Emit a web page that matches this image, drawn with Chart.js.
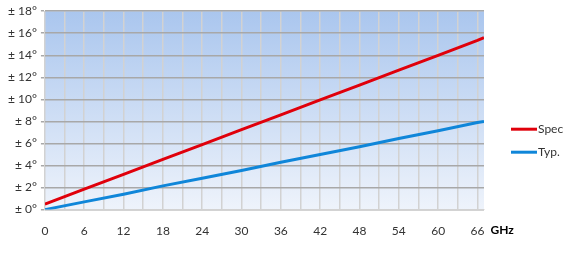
<!DOCTYPE html>
<html>
<head>
<meta charset="utf-8">
<script src="https://cdn.jsdelivr.net/npm/chart.js@4"></script>
<style>
  html, body { margin: 0; padding: 0; background: #fff; }
  #wrap { width: 567px; height: 253px; }
</style>
</head>
<body>
<div id="wrap"><canvas id="myChart"></canvas></div>
<script>
// frequency points (GHz) and the two curves
const freqs = [0, 6, 12, 18, 24, 30, 36, 42, 48, 54, 60, 66, 67];
const specValues = [0.5, 1.85, 3.2, 4.55, 5.9, 7.25, 8.6, 9.95, 11.3, 12.65, 14.0, 15.35, 15.6];
const typValues = [0, 0.7, 1.4, 2.15, 2.85, 3.55, 4.3, 5.0, 5.7, 6.45, 7.15, 7.9, 8.0];
const seriesNames = ["Spec", "Typ."];
const seriesColors = ["#e0000b", "#0f86d9"];
const xTicks = [0, 3, 6, 9, 12, 15, 18, 21, 24, 27, 30, 33, 36, 39, 42, 45, 48, 51, 54, 57, 60, 63, 66];
const xUnit = "GHz";

const fontFamily = "Lato, 'Open Sans', sans-serif";
const font = { family: fontFamily, size: 12 };

// blue gradient behind the plot area
const plotBackground = {
  id: "plotBackground",
  beforeDraw(chart) {
    const { ctx, chartArea: a } = chart;
    const g = ctx.createLinearGradient(0, a.top, 0, a.bottom);
    g.addColorStop(0, "#aac6ee");
    g.addColorStop(1, "#eef3fb");
    ctx.save();
    ctx.fillStyle = g;
    ctx.fillRect(a.left, a.top, a.right - a.left, a.bottom - a.top);
    ctx.restore();
  },
};

// "GHz" after the last tick label, and the legend to the right of the plot
const extras = {
  id: "extras",
  afterDraw(chart) {
    const { ctx, scales, chartArea: a } = chart;
    ctx.save();
    ctx.textBaseline = "middle";
    ctx.font = "bold 12px " + fontFamily;
    ctx.fillStyle = "#000";
    ctx.fillText(xUnit, scales.x.getPixelForValue(66) + 13, scales.x.top + 21);

    ctx.font = "12px " + fontFamily;
    ctx.lineWidth = 3;
    seriesNames.forEach((name, i) => {
      const y = a.top + 118 + i * 23;
      const x = a.right + 27;
      ctx.strokeStyle = seriesColors[i];
      ctx.beginPath();
      ctx.moveTo(x, y);
      ctx.lineTo(x + 26, y);
      ctx.stroke();
      ctx.fillStyle = "#333";
      ctx.fillText(name, x + 27, y);
    });
    ctx.restore();
  },
};

const myChart = new Chart(document.getElementById("myChart"), {
  type: "line",
  data: {
    datasets: seriesNames.map((name, k) => ({
      label: name,
      data: freqs.map((f, i) => ({ x: f, y: (k === 0 ? specValues : typValues)[i] })),
      borderColor: seriesColors[k],
      backgroundColor: seriesColors[k],
      borderWidth: 3,
      pointRadius: 0,
      fill: false,
    })),
  },
  options: {
    responsive: true,
    maintainAspectRatio: false,
    animation: false,
    layout: { padding: { top: -2, right: 83, left: 4, bottom: 1 } },
    scales: {
      x: {
        type: "linear",
        min: 0,
        max: 67,
        afterBuildTicks: (scale) => {
          scale.ticks = xTicks.map((v) => ({ value: v }));
        },
        ticks: {
          autoSkip: false,
          maxRotation: 0,
          padding: 14,
          color: "#333",
          font: font,
          callback: (v) => (v % 6 === 0 ? String(v) : ""),
        },
        grid: { color: "#d2d2d2", lineWidth: 1.5, drawTicks: false },
        border: { color: "#d2d2d2", width: 1 },
      },
      y: {
        min: 0,
        max: 18,
        ticks: {
          stepSize: 2,
          padding: 4,
          color: "#333",
          font: font,
          callback: (v) => "\u00b1 " + v + "\u00b0",
        },
        grid: { color: "#a8a8a8", lineWidth: 1.5, drawTicks: true, tickLength: 4 },
        border: { color: "#d2d2d2", width: 1 },
      },
    },
    plugins: {
      legend: { display: false },
      tooltip: { enabled: false },
    },
  },
  plugins: [plotBackground, extras],
});
</script>
</body>
</html>
